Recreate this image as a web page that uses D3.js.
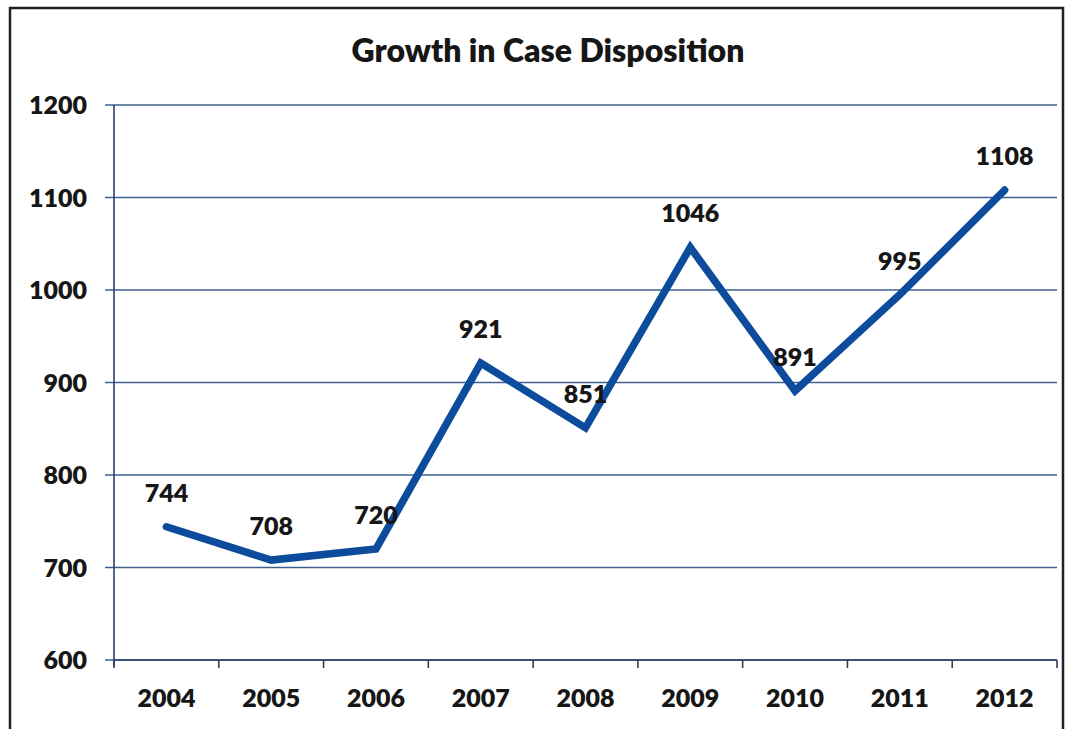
<!DOCTYPE html>
<html>
<head>
<meta charset="utf-8">
<script src="https://cdn.jsdelivr.net/npm/d3@7"></script>
<style>
  html, body { margin: 0; padding: 0; background: #ffffff; }
  svg { display: block; }
  text { font-family: Lato, "Open Sans", sans-serif; font-weight: 800; fill: #161616; }
</style>
</head>
<body>
<svg id="chart" width="1073" height="729"></svg>
<script>
// Yearly case dispositions
const years = ["2004", "2005", "2006", "2007", "2008", "2009", "2010", "2011", "2012"];
const dispositions = [744, 708, 720, 921, 851, 1046, 891, 995, 1108];
const yTicks = [600, 700, 800, 900, 1000, 1100, 1200];
const title = "Growth in Case Disposition";

const svg = d3.select("#chart");
const W = 1073, H = 729;
const plot = { left: 114, right: 1057, top: 105, bottom: 660 };

// outer frame (open at the bottom)
svg.append("path")
  .attr("d", `M10,${H} L10,8 L1063,8 L1063,${H}`)
  .attr("fill", "none")
  .attr("stroke", "#222")
  .attr("stroke-width", 2.5);

svg.append("text")
  .attr("x", 548).attr("y", 62)
  .attr("text-anchor", "middle")
  .attr("font-size", 32)
  .text(title);

const x = d3.scaleBand().domain(years).range([plot.left, plot.right]);
const y = d3.scaleLinear().domain([600, 1200]).range([plot.bottom, plot.top]);

// horizontal gridlines
svg.append("g")
  .selectAll("line")
  .data(yTicks)
  .join("line")
  .attr("x1", plot.left - 9).attr("x2", plot.right)
  .attr("y1", d => y(d)).attr("y2", d => y(d))
  .attr("stroke", "#3f5f8f")
  .attr("stroke-width", 1.6);

// y axis line
svg.append("line")
  .attr("x1", plot.left).attr("x2", plot.left)
  .attr("y1", plot.top).attr("y2", plot.bottom + 6)
  .attr("stroke", "#2c3f66").attr("stroke-width", 1.6);

// y tick labels
svg.append("g")
  .selectAll("text")
  .data(yTicks)
  .join("text")
  .attr("x", 87)
  .attr("y", d => y(d))
  .attr("dy", "0.36em")
  .attr("text-anchor", "end")
  .attr("font-size", 25)
  .text(d => d);

// x axis with tick marks at band edges
const xAxis = svg.append("g").attr("transform", `translate(0,${plot.bottom})`);
xAxis.append("line")
  .attr("x1", plot.left).attr("x2", plot.right)
  .attr("stroke", "#2c3f66").attr("stroke-width", 1.6);
const edges = years.map(d => x(d)).concat([x(years[years.length - 1]) + x.bandwidth()]);
xAxis.selectAll("line.tick")
  .data(edges)
  .join("line")
  .attr("class", "tick")
  .attr("x1", d => d).attr("x2", d => d)
  .attr("y1", 0).attr("y2", 8)
  .attr("stroke", "#2c3f66").attr("stroke-width", 1.6);
xAxis.selectAll("text")
  .data(years)
  .join("text")
  .attr("x", d => x(d) + x.bandwidth() / 2)
  .attr("y", 47)
  .attr("text-anchor", "middle")
  .attr("font-size", 25)
  .text(d => d);

// series line
const pts = years.map((yr, i) => ({ yr, v: dispositions[i] }));
const line = d3.line()
  .x(d => x(d.yr) + x.bandwidth() / 2)
  .y(d => y(d.v));
svg.append("path")
  .datum(pts)
  .attr("d", line)
  .attr("fill", "none")
  .attr("stroke", "#0d4c9c")
  .attr("stroke-width", 7.5)
  .attr("stroke-linejoin", "miter")
  .attr("stroke-linecap", "round");

// value labels
svg.append("g")
  .selectAll("text")
  .data(pts)
  .join("text")
  .attr("x", d => x(d.yr) + x.bandwidth() / 2)
  .attr("y", d => y(d.v) - 25)
  .attr("text-anchor", "middle")
  .attr("font-size", 25)
  .text(d => d.v);
</script>
</body>
</html>
